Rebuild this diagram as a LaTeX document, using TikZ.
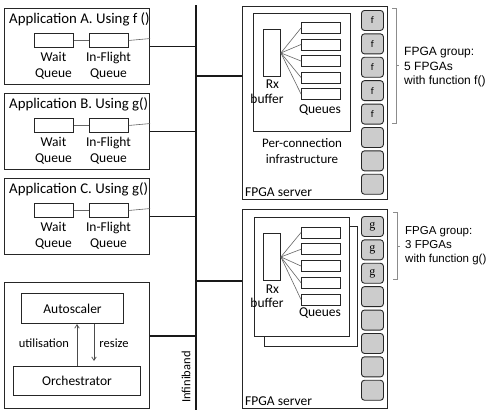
\documentclass[tikz,border=0pt]{standalone}
\usepackage{fontspec}
\setmainfont{Carlito}
\newfontfamily\arialf{Liberation Sans}
\newfontfamily\serf{Liberation Serif}
\usetikzlibrary{calc,arrows.meta}
\begin{document}
\begin{tikzpicture}[x=1pt,y=-1pt,
  box/.style={draw=black!85,line width=1.1pt,fill=white,anchor=north west,inner sep=0pt},
  qbox/.style={draw=black!85,line width=0.9pt,fill=white,anchor=north west,inner sep=0pt},
  thin/.style={draw=black!60,line width=0.6pt},
  bus/.style={draw=black!90,line width=1.1pt},
  fpga/.style={draw=black!85,line width=0.9pt,fill=black!20,rounded corners=3pt,
     minimum width=22pt,minimum height=20pt,anchor=north west,inner sep=0pt,font=\fontsize{12}{12}\selectfont},
  lbl/.style={inner sep=0pt,font=\fontsize{13.5}{16}\selectfont,align=center},
  ttl/.style={inner sep=0pt,anchor=west,font=\fontsize{14.8}{16}\selectfont},
  small/.style={inner sep=0pt,font=\fontsize{12.5}{15}\selectfont},
  grp/.style={inner sep=0pt,anchor=west,align=left,font=\arialf\fontsize{12}{14.5}\selectfont},
  brk/.style={draw=black!45,line width=0.8pt},
  arr/.style={draw=black!70,line width=0.7pt,-{Straight Barb[length=3.5pt,width=4.5pt]}}
]
\useasboundingbox (0,0) rectangle (489,410);

% bus
\coordinate (bustop) at (196,5);
\coordinate (busbot) at (196,410);
\draw[bus] (bustop) -- (busbot);

% application boxes
\foreach \n/\t/\dy in {A/{Application A. Using f ()}/0, B/{Application B. Using g()}/85, C/{Application C. Using g()}/170}{
  \node[box,minimum width=145pt,minimum height=76pt] (app\n) at (4,8+\dy) {};
  \node[ttl] (title\n) at (9,19+\dy) {\t};
  \node[qbox,minimum width=39pt,minimum height=14pt] (wait\n) at (34,33+\dy) {};
  \node[qbox,minimum width=39pt,minimum height=14pt] (fly\n) at (89,33+\dy) {};
  \node[lbl] (waitl\n) at (53.5,66+\dy) {Wait\\Queue};
  \node[lbl] (flyl\n) at (108.5,66+\dy) {In-Flight\\Queue};
  \draw[thin] (wait\n.east) -- (fly\n.west);
  \coordinate (edge\n) at ($(app\n.east)+(0,-8)$);
  \draw[thin] (fly\n.east) -- (edge\n);
  \draw[bus] (app\n.east) -- (app\n.east -| bustop);
}

% control box
\node[box,minimum width=145pt,minimum height=126pt] (ctrl) at (4,282) {};
\node[box,minimum width=102pt,minimum height=30pt] (auto) at (21,293) {};
\node[lbl] at (auto.center) {Autoscaler};
\node[box,minimum width=127pt,minimum height=29pt] (orch) at (13,366) {};
\node[lbl] at (orch.center) {Orchestrator};
\coordinate (upS) at ($(orch.north west)+(64,0)$);
\coordinate (upE) at (upS |- auto.south);
\draw[arr] (upS) -- (upE);
\coordinate (dnS) at ($(auto.south west)+(73,0)$);
\coordinate (dnE) at ($(dnS |- orch.north)+(0,-5)$);
\draw[arr] (dnS) -- (dnE);
\node[small] (util) at (44,343) {utilisation};
\node[small] (rsz) at (114,343) {resize};
\coordinate (ctrlc) at ($(ctrl.north east)+(0,54)$);
\draw[bus] (ctrlc) -- (ctrlc -| bustop);
\node[small,rotate=90] (ib) at (186,377) {Infiniband};

% FPGA server 1
\node[box,minimum width=145pt,minimum height=193pt] (srv1) at (242,6) {};
\coordinate (s1c) at ($(srv1.north west)+(0,70)$);
\draw[bus] (s1c -| bustop) -- (s1c);
\node[box,minimum width=97pt,minimum height=118pt] (inf1) at (253,13) {};
\node[qbox,minimum width=17pt,minimum height=47pt] (rx1) at (263,29) {};
\foreach \i in {0,...,4}{
  \node[qbox,minimum width=39pt,minimum height=11pt,anchor=west] (q1\i) at (301,28+16.5*\i) {};
  \draw[thin] (rx1.east) -- (q1\i.west);
}
\node[lbl] (rxl1) at (272.5,84) {Rx};
\node[lbl] (bufl1) at (267,99) {buffer};
\node[lbl] (qul1) at (320,110) {Queues};
\node[lbl,font=\fontsize{13}{15.5}\selectfont] (pci) at (302,151) {Per-connection\\infrastructure};
\node[lbl,anchor=west] (fs1) at (245,192) {FPGA server};
\foreach \i in {0,...,7}{
  \node[fpga] (fa\i) at (361,10+23.4*\i) {};
}
\foreach \i in {0,...,4}{
  \node at (fa\i.center) {f};
}
\coordinate (b1t) at (396,8);
\coordinate (b1b) at (396,123);
\draw[brk] ($(b1t)+(-4,0)$) -- (b1t) -- (b1b) -- ($(b1b)+(-4,0)$);
\draw[brk] (396,65) -- (399,65);
\node[grp] (g1) at (404,67.5) {FPGA group:\\5 FPGAs\\with function f()};

% FPGA server 2
\node[box,minimum width=145pt,minimum height=199pt] (srv2) at (242,209) {};
\coordinate (s2c) at ($(srv2.north west)+(0,72)$);
\draw[bus] (s2c -| bustop) -- (s2c);
\node[box,minimum width=93pt,minimum height=120pt] (inf2b) at (264,226) {};
\node[box,minimum width=95pt,minimum height=119pt] (inf2) at (254,217) {};
\node[qbox,minimum width=17pt,minimum height=47pt] (rx2) at (263,233) {};
\foreach \i in {0,...,4}{
  \node[qbox,minimum width=39pt,minimum height=11pt,anchor=west] (q2\i) at (301,232.5+16.75*\i) {};
  \draw[thin] (rx2.east) -- (q2\i.west);
}
\node[lbl] (rxl2) at (272.5,289) {Rx};
\node[lbl] (bufl2) at (267,303) {buffer};
\node[lbl] (qul2) at (320,313) {Queues};
\node[lbl,anchor=west] (fs2) at (245,401) {FPGA server};
\foreach \i in {0,...,7}{
  \node[fpga] (fb\i) at (361,216+23.4*\i) {};
}
\foreach \i in {0,...,2}{
  \node[font=\serf\fontsize{12}{12}\selectfont] at (fb\i.center) {g};
}
\coordinate (b2t) at (397,212);
\coordinate (b2b) at (397,279);
\draw[brk] ($(b2t)+(-4,0)$) -- (b2t) -- (b2b) -- ($(b2b)+(-4,0)$);
\draw[brk] (397,246) -- (400,246);
\node[grp,font=\arialf\fontsize{11.5}{14}\selectfont] (g2) at (405,246) {FPGA group:\\3 FPGAs\\with function g()};
\end{tikzpicture}
\end{document}
